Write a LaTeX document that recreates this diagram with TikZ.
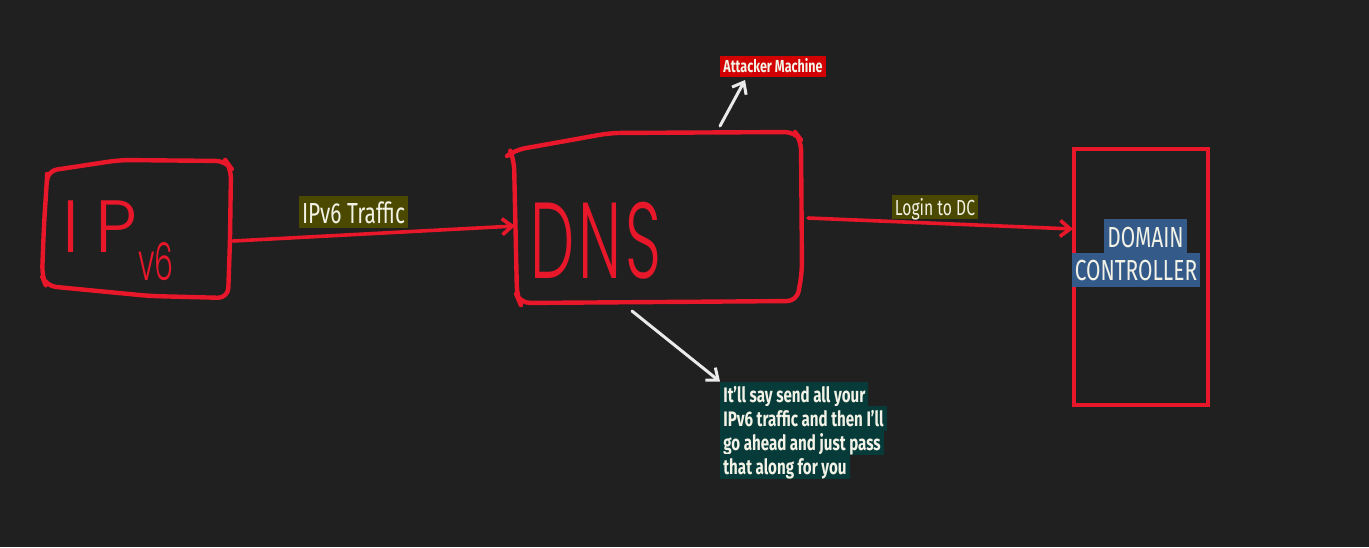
\documentclass[tikz,border=0pt]{standalone}
\usepackage{fontspec}
\setmainfont{Fira Sans}[FakeStretch=0.72]
\IfFontExistsTF{Poppins Light}{%
  \newfontfamily\handfont{Poppins Light}%
  \newfontfamily\handnarrow{Poppins Light}[FakeStretch=0.58]}{%
  \newfontfamily\handfont{Poppins}%
  \newfontfamily\handnarrow{Poppins}[FakeStretch=0.58]}
\usepackage{tikz}
\usetikzlibrary{arrows.meta}
\definecolor{bgdark}{HTML}{212020}
\definecolor{penred}{HTML}{E8172A}
\definecolor{inkwhite}{HTML}{EAEAEA}
\definecolor{labeltext}{HTML}{F2F2E6}
\definecolor{hiolive}{HTML}{4B4800}
\definecolor{hired}{HTML}{D20000}
\definecolor{hiteal}{HTML}{073B3A}
\definecolor{hiblue}{HTML}{345A8A}
\newcommand{\fsz}[1]{\fontsize{#1}{1.2\dimexpr#1pt\relax}\selectfont}

\begin{document}
\begin{tikzpicture}[x=0.5pt, y=-0.5pt,
  hand/.style={draw=penred, line width=2.2pt, line cap=round, line join=round},
  redarrow/.style={draw=penred, line width=1.8pt, line cap=round, -{Straight Barb[length=5pt,width=8pt]}},
  whitearrow/.style={draw=inkwhite, line width=1.5pt, line cap=round, -{Straight Barb[length=5pt,width=8pt]}},
  hilite/.style={inner xsep=1.5pt, inner ysep=0pt, text=labeltext},
  notebox/.style={hilite, fill=hiteal, anchor=base west, text height=10pt, text depth=2.5pt, font=\bfseries\fsz{10.5}}]
  % Background
  \fill[bgdark] (0,0) rectangle (1369,547);
  % IPv6 box (hand drawn)
  \draw[hand, rounded corners=5pt] (47,174) -- (47,171) -- (120,160) -- (226,161) -- (231,168)
    -- (230,240) -- (228,298) -- (150,296) -- (46,286) -- (42,276) -- (44,225) -- (47,178);
  \node[penred, anchor=base west, inner sep=0, font=\handfont\fsz{37}] (iptext) at (62,252) {I\hspace{8pt}P};
  \node[penred, anchor=base west, inner sep=0, font=\handnarrow\fsz{26}] (v6text) at (138,280) {v6};
  % DNS box (hand drawn)
  \draw[hand, rounded corners=5pt] (511,153) -- (515,150) -- (560,142) -- (610,133) -- (795,132)
    -- (801,140) -- (802,272) -- (797,301) -- (520,303) -- (517,296) -- (514,160) -- (512,155);
  \node[penred, anchor=base west, inner sep=0, font=\handnarrow\fsz{54}] (dnstext) at (530,278) {D\hspace{2pt}N\hspace{2pt}S};
  % Domain controller box
  \node[draw=penred, line width=1.6pt, minimum width=67pt, minimum height=128pt, inner sep=0] (dc) at (1141,277) {};
  \node[hilite, fill=hiblue, anchor=base, text height=14pt, text depth=3pt, font=\fsz{14.5}] (dcline1) at (1145.5,247) {DOMAIN};
  \node[hilite, fill=hiblue, anchor=base, text height=13.5pt, text depth=3.5pt, font=\fsz{14.5}] (dcline2) at (1136,280) {CONTROLLER};
  % Anchor points on the hand drawn boxes
  \coordinate (ipR) at (233,241);
  \coordinate (dnsL) at (515,226);
  \coordinate (dnsR) at (808,218);
  \coordinate (dcL) at (1073,229);
  \coordinate (dnsT) at (720,126);
  \coordinate (dnsB) at (632,311);
  \coordinate (attkB) at (745,80);
  % Labels
  \node[hilite, fill=hiolive, anchor=base, text height=13.5pt, text depth=2.5pt, font=\fsz{14.5}] (trafficlbl) at (353.5,223) {IPv6 Traffic};
  \node[hilite, fill=hiolive, anchor=base, text height=10pt, text depth=2pt, font=\fsz{10.9}] (loginlbl) at (935,215) {Login to DC};
  \node[hilite, fill=hired, anchor=base, text height=8pt, text depth=2.5pt, font=\bfseries\fsz{8.7}] (attk) at (773,72) {Attacker Machine};
  \node[notebox] (note1) at (720,402) {It'll say send all your};
  \node[notebox] (note2) at (720,426) {IPv6 traffic and then I'll};
  \node[notebox] (note3) at (720,450) {go ahead and just pass};
  \node[notebox] (note4) at (720,474) {that along for you};
  % Connectors
  \draw[redarrow] (ipR) -- (dnsL);
  \draw[redarrow] (dnsR) -- (dcL);
  \draw[whitearrow] (dnsT) -- (attkB);
  \draw[whitearrow] (dnsB) -- (note1.north west);
\end{tikzpicture}
\end{document}
